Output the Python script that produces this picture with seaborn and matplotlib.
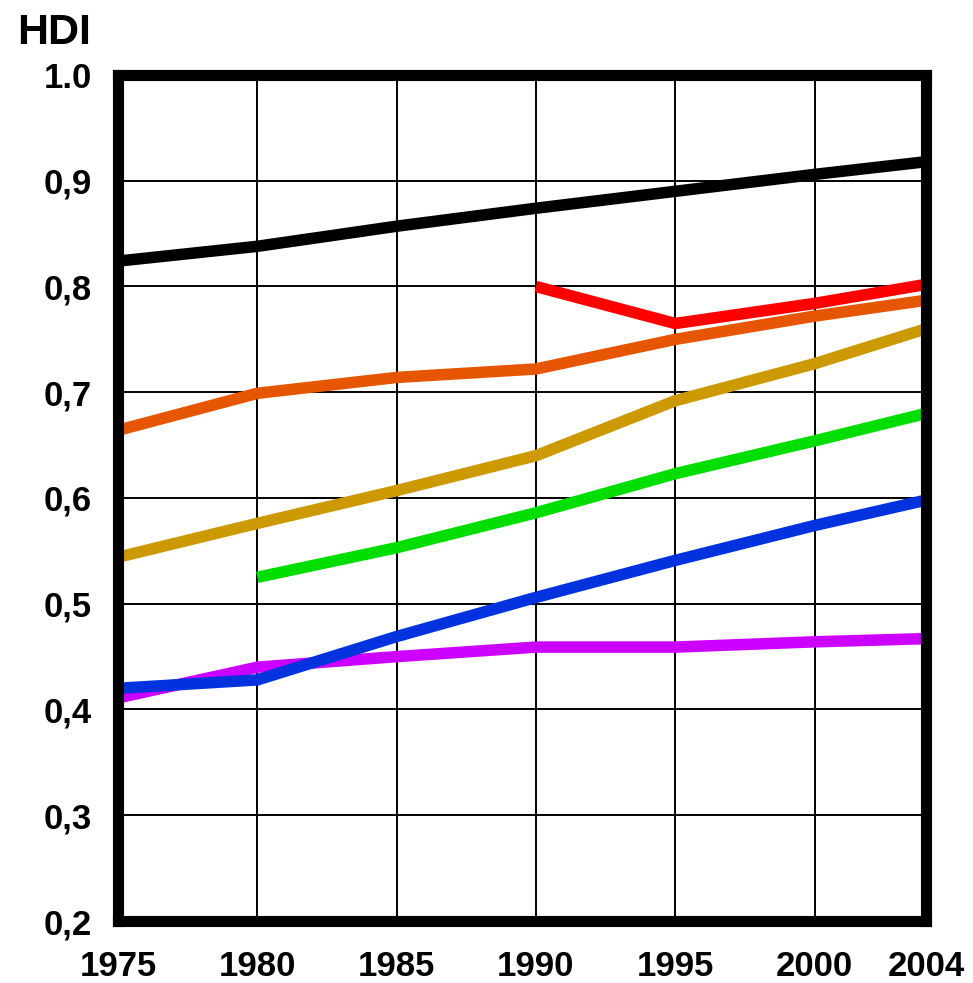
import matplotlib
matplotlib.use("Agg")
import matplotlib.pyplot as plt
import seaborn as sns
import numpy as np
import pandas as pd

years = [1975, 1980, 1985, 1990, 1995, 2000, 2004]
black = [0.824, 0.838, 0.857, 0.874, 0.890, 0.906, 0.918]
red = [np.nan, np.nan, np.nan, 0.800, 0.765, 0.784, 0.802]
orange = [0.664, 0.699, 0.714, 0.722, 0.750, 0.772, 0.787]
gold = [0.544, 0.576, 0.607, 0.640, 0.692, 0.727, 0.760]
green = [np.nan, 0.525, 0.553, 0.586, 0.623, 0.654, 0.680]
blue = [0.420, 0.428, 0.469, 0.506, 0.541, 0.574, 0.598]
purple = [0.411, 0.440, 0.450, 0.459, 0.459, 0.464, 0.467]

series = {
    "black": black, "purple": purple, "blue": blue, "green": green,
    "gold": gold, "orange": orange, "red": red,
}
colors = {
    "black": "#000000", "red": "#ff0000", "orange": "#e65500",
    "gold": "#cc9900", "green": "#00dd00", "blue": "#0033dd",
    "purple": "#cc00ff",
}

yticks = [0.2, 0.3, 0.4, 0.5, 0.6, 0.7, 0.8, 0.9, 1.0]
ytick_labels = ["0,2", "0,3", "0,4", "0,5", "0,6", "0,7", "0,8", "0,9", "1.0"]
xtick_labels = ["1975", "1980", "1985", "1990", "1995", "2000", "2004"]

rows = []
for name, vals in series.items():
    for y, v in zip(years, vals):
        if not np.isnan(v):
            rows.append({"year": y, "hdi": v, "series": name})
df = pd.DataFrame(rows)

sns.set_style("white")
plt.rcParams["font.family"] = ["Liberation Sans", "DejaVu Sans"]

fig = plt.figure(figsize=(9.73, 9.83), dpi=100)
L, R, T, B = 118, 926, 75, 921
ax = fig.add_axes([L / 973, 1 - B / 983, (R - L) / 973, (B - T) / 983])

ax.set_xlim(1975, 2004)
ax.set_ylim(0.2, 1.0)
ax.set_xticks(years)
ax.set_yticks(yticks)
ax.grid(True, color="black", linewidth=1.4)
ax.set_axisbelow(True)

sns.lineplot(data=df, x="year", y="hdi", hue="series", palette=colors,
             linewidth=8.3, legend=False, ax=ax, sort=True)
for ln in ax.get_lines():
    ln.set_solid_capstyle("butt")
    ln.set_solid_joinstyle("miter")

ax.set_xticklabels(xtick_labels, fontsize=25, fontweight="bold", color="black")
ax.set_yticklabels(ytick_labels, fontsize=25, fontweight="bold", color="black")
ax.tick_params(axis="both", length=0)
ax.tick_params(axis="x", pad=21)
ax.tick_params(axis="y", pad=19)
ax.set_xlabel("")
ax.set_ylabel("")

for sp in ax.spines.values():
    sp.set_visible(True)
    sp.set_color("black")
    sp.set_linewidth(8)

fig.text(17 / 973, 1 - 33 / 983, "HDI", fontsize=31, fontweight="bold",
         va="center", ha="left", color="black")

fig.savefig("out.png", dpi=100)
